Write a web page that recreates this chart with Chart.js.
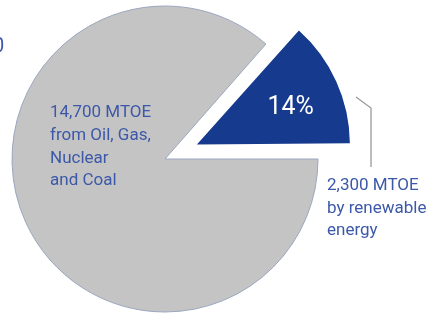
<!DOCTYPE html>
<html>
<head>
<meta charset="utf-8">
<script src="https://cdn.jsdelivr.net/npm/chart.js@4/dist/chart.umd.min.js"></script>
<style>
  html, body { margin: 0; padding: 0; background: #ffffff; }
  #wrap { position: relative; width: 437px; height: 313px; }
</style>
</head>
<body>
<div id="wrap"><canvas id="c"></canvas></div>
<script>
// ---- data ----
const categories = ["Oil, Gas, Nuclear and Coal", "Renewable energy"];
const valuesMTOE = [14700, 2300];
const sliceColors = ["#c4c4c4", "#163a8d"];
const labelLinesFossil = ["14,700 MTOE", "from Oil, Gas,", "Nuclear", "and Coal"];
const labelLinesRenew = ["2,300 MTOE", "by renewable", "energy"];
const edgeFragment = "0";

const TEXT_BLUE = "#3c58a8";
const FONT = "Roboto, 'Open Sans', sans-serif";
const SHIFT = 35; // pixel shift of the highlighted slice

const total = valuesMTOE.reduce((a, b) => a + b, 0);
const pctRenew = Math.round(valuesMTOE[1] / total * 100) + "%";

// keep the exploded slice's radius equal to the rest of the pie
const keepRadius = {
  id: 'keepRadius',
  afterDatasetUpdate(chart, args) {
    const meta = args.meta;
    meta.data.forEach(arc => {
      const off = (arc.options.offset || 0) / 4;
      if (!off) return;
      const circ = arc.endAngle - arc.startAngle;
      const fix = 1 - Math.sin(Math.min(Math.PI, circ));
      arc.outerRadius = arc.outerRadius - off * fix;
    });
  }
};

const annotations = {
  id: 'annotations',
  afterDraw(chart) {
    const ctx = chart.ctx;
    const meta = chart.getDatasetMeta(0);
    const gray = meta.data[0];
    const blue = meta.data[1];
    const cx = gray.x, cy = gray.y;
    ctx.save();
    ctx.textAlign = 'left';
    ctx.textBaseline = 'alphabetic';

    // fossil label
    ctx.fillStyle = TEXT_BLUE;
    ctx.font = "17px " + FONT;
    const fossilBase = [-42, -19, 4, 26];
    labelLinesFossil.forEach((t, i) => ctx.fillText(t, cx - 115, cy + fossilBase[i]));

    // percentage inside the blue slice
    const mid = (blue.startAngle + blue.endAngle) / 2;
    const px = blue.x + Math.cos(mid) * (SHIFT + 103);
    const py = blue.y + Math.sin(mid) * (SHIFT + 103);
    ctx.fillStyle = "#ffffff";
    ctx.font = "25px " + FONT;
    ctx.textAlign = 'center';
    ctx.textBaseline = 'middle';
    ctx.fillText(pctRenew, px, py + 6);

    // leader line
    ctx.strokeStyle = "#9a9a9a";
    ctx.lineWidth = 1.3;
    ctx.beginPath();
    ctx.moveTo(cx + 191, cy - 62);
    ctx.lineTo(cx + 206, cy - 51);
    ctx.lineTo(cx + 206, cy + 8);
    ctx.stroke();

    // renewable label
    ctx.fillStyle = TEXT_BLUE;
    ctx.font = "17px " + FONT;
    ctx.textAlign = 'left';
    ctx.textBaseline = 'alphabetic';
    const renewBase = [31, 54, 76];
    labelLinesRenew.forEach((t, i) => ctx.fillText(t, cx + 162, cy + renewBase[i]));

    // clipped fragment at the left edge
    ctx.font = "20px " + FONT;
    ctx.fillText(edgeFragment, -7, 52);
    ctx.restore();
  }
};

new Chart(document.getElementById('c'), {
  type: 'pie',
  data: {
    labels: categories,
    datasets: [{
      data: valuesMTOE,
      backgroundColor: sliceColors,
      borderColor: ["#9aa6bf", "#163a8d"],
      borderWidth: [1, 0],
      offset: [0, SHIFT * 4]
    }]
  },
  options: {
    responsive: true,
    maintainAspectRatio: false,
    animation: false,
    rotation: 90,
    radius: 153,
    layout: { padding: { left: 0, right: 107, top: 5, bottom: 0 } },
    plugins: {
      legend: { display: false },
      tooltip: { enabled: false }
    }
  },
  plugins: [keepRadius, annotations]
});
</script>
</body>
</html>
